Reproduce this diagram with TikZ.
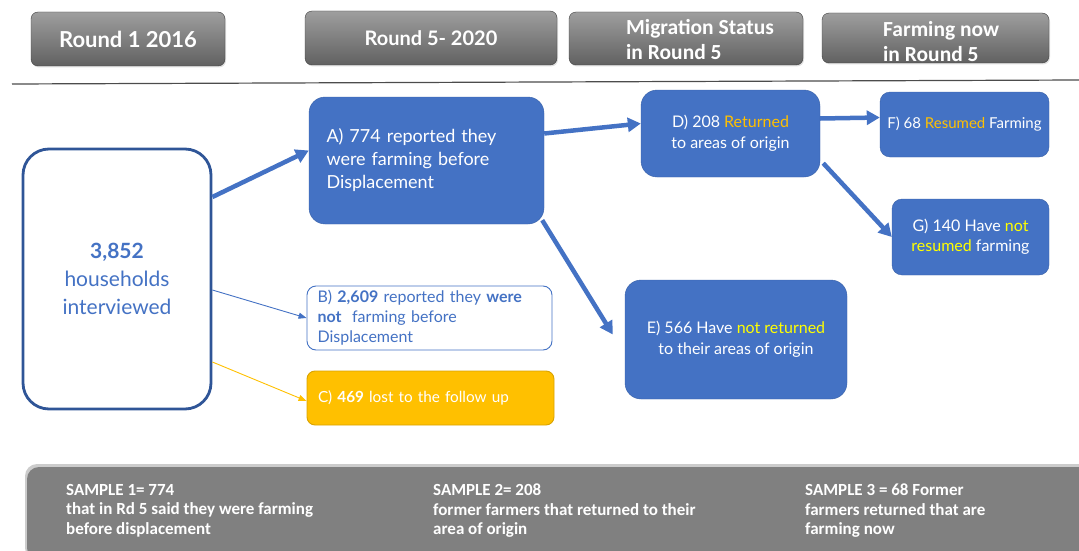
\documentclass[tikz,border=0pt]{standalone}
\usepackage{fontspec}
\setmainfont{Lato}
\newfontfamily\calibri{Carlito}
\usetikzlibrary{arrows.meta,shadows}

\definecolor{boxblue}{HTML}{4472C4}
\definecolor{edgeblue}{HTML}{2F5597}
\definecolor{gold}{HTML}{FFC000}
\definecolor{lemon}{HTML}{FFFF00}
\definecolor{bargray}{HTML}{808080}

\begin{document}
\begin{tikzpicture}[x=1pt,y=-1pt,
    hdr/.style={draw=black!75,rounded corners=7pt,top color=black!38,bottom color=black!62,
      inner sep=0pt,drop shadow={opacity=0.25,shadow xshift=1pt,shadow yshift=-1.5pt}},
    hdrtext/.style={text=white,inner sep=0pt,align=left},
    bluebox/.style={fill=boxblue,draw=boxblue!85!black,rounded corners=16pt,text=white,
      inner sep=0pt,font=\fontsize{16}{20.5}\selectfont},
    bigarrow/.style={boxblue,line width=4.5pt,-{Triangle[length=13pt,width=14pt]}},
    thinarrow/.style={line width=0.9pt,-{Triangle[length=8pt,width=6pt]}},
    sample/.style={anchor=north west,text=white,align=left,inner sep=0pt,font=\calibri\bfseries\fontsize{17}{19.5}\selectfont}]
    \useasboundingbox (0,0) rectangle (1079,551);

    % column headings
    \node[hdr,minimum width=194,minimum height=54,text=white,font=\bfseries\fontsize{22}{24}\selectfont] (hround1) at (128,39) {Round 1 2016};
    \node[hdr,minimum width=252,minimum height=54,text=white,font=\bfseries\fontsize{20}{22}\selectfont] (hround5) at (431,38) {Round 5- 2020};
    \node[hdr,minimum width=234,minimum height=53] (hmig) at (686,38.5) {};
    \node[hdrtext,anchor=west,font=\calibri\bfseries\fontsize{21.5}{25}\selectfont] (tmig) at (626,40) {Migration Status\\in Round 5};
    \node[hdr,minimum width=227,minimum height=50] (hfarm) at (935.5,38) {};
    \node[hdrtext,anchor=west,font=\calibri\bfseries\fontsize{21.5}{25}\selectfont] (tfarm) at (883,42) {Farming now\\in Round 5};
    \draw[black!70,line width=1.2pt] (12,84) -- (1079,80);

    % households
    \node[draw=edgeblue,line width=2.8pt,fill=white,rounded corners=26pt,minimum width=188,minimum height=260,
      text=boxblue,align=center,font=\fontsize{21}{28}\selectfont] (main) at (117,279)
      {\textbf{3,852}\\households\\interviewed};

    % round 5 boxes
    \node[bluebox,minimum width=235,minimum height=127,text width=200,align=left,font=\fontsize{18}{23}\selectfont] (A) at (426.5,160.5)
      {A) 774 reported they\\were farming before\\Displacement};
    \node[draw=boxblue,fill=white,rounded corners=9pt,line width=0.9pt,minimum width=245,minimum height=64,inner sep=0pt,
      text width=224,align=left,text=boxblue,font=\fontsize{16}{20}\selectfont] (B) at (429.5,318)
      {B) \textbf{2,609} reported they \textbf{were}\\\textbf{not}\ \ farming before\\Displacement};
    \node[fill=gold,draw=gold!85!black,rounded corners=8pt,line width=0.9pt,minimum width=247,minimum height=54,inner sep=0pt,
      text width=225,align=left,text=white,font=\fontsize{15.3}{18}\selectfont] (C) at (430.5,398)
      {C) \textbf{469} lost to the follow up};

    % migration status
    \node[bluebox,minimum width=179,minimum height=87,align=center] (D) at (730.5,133.5)
      {D) 208 \textcolor{gold}{Returned}\\to areas of origin};
    \node[bluebox,minimum width=222,minimum height=119,align=center] (E) at (736,339.5)
      {E) 566 Have \textcolor{lemon}{not returned}\\to their areas of origin};

    % farming now
    \node[bluebox,rounded corners=10pt,minimum width=169,minimum height=65,align=center,font=\fontsize{15}{20}\selectfont] (F) at (964.5,124.5)
      {F) 68 \textcolor{gold}{Resumed} Farming};
    \node[bluebox,rounded corners=10pt,minimum width=157,minimum height=76,align=center] (G) at (970.5,237)
      {G) 140 Have \textcolor{lemon}{not}\\\textcolor{lemon}{resumed} farming};

    % connectors
    \draw[bigarrow] ([yshift=82pt]main.east) -- ([yshift=10pt]A.west);
    \draw[thinarrow,boxblue] ([yshift=-11pt]main.east) -- (B.west);
    \draw[thinarrow,gold] ([yshift=-83pt]main.east) -- ([yshift=-3pt]C.west);
    \draw[bigarrow] ([yshift=27pt]A.east) -- ([yshift=10pt]D.west);
    \draw[bigarrow] ([xshift=-2pt,yshift=4pt]A.south east) -- ([xshift=-12pt,yshift=5pt]E.west);
    \draw[bigarrow] ([yshift=15pt]D.east) -- ([yshift=7pt]F.west);
    \draw[bigarrow] ([xshift=3pt,yshift=14pt]D.south east) -- (G.west);

    % samples
    \fill[black!20,rounded corners=12pt] (25,464) rectangle (1095,560);
    \fill[bargray,rounded corners=12pt] (27,467) rectangle (1095,560);
    \node[sample] (s1) at (66,484) {SAMPLE 1= 774\\that in Rd 5 said they were farming\\before displacement};
    \node[sample] (s2) at (433,484) {SAMPLE 2= 208\\former farmers that returned to their\\area of origin};
    \node[sample] (s3) at (805,484) {SAMPLE 3 = 68 Former\\farmers returned that are\\farming now};
\end{tikzpicture}
\end{document}
